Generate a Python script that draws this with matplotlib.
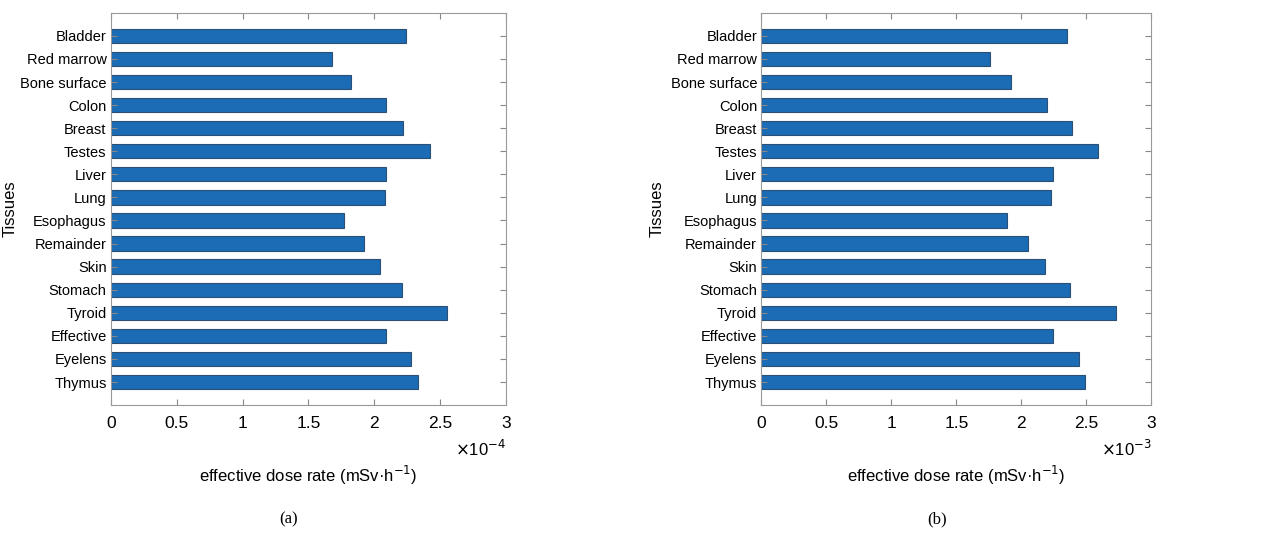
import matplotlib.pyplot as plt
from matplotlib.ticker import FuncFormatter

plt.rcParams['font.family'] = ['Liberation Sans Narrow', 'Liberation Sans', 'DejaVu Sans']

tissues = ['Bladder', 'Red marrow', 'Bone surface', 'Colon', 'Breast', 'Testes',
           'Liver', 'Lung', 'Esophagus', 'Remainder', 'Skin', 'Stomach',
           'Tyroid', 'Effective', 'Eyelens', 'Thymus']

# dose rates, (a) in units of 1e-4 mSv/h, (b) in units of 1e-3 mSv/h
dose_a = [2.24, 1.68, 1.82, 2.09, 2.22, 2.42, 2.09, 2.08,
          1.77, 1.92, 2.04, 2.21, 2.55, 2.09, 2.28, 2.33]
dose_b = [2.35, 1.76, 1.92, 2.20, 2.39, 2.59, 2.24, 2.23,
          1.89, 2.05, 2.18, 2.37, 2.73, 2.24, 2.44, 2.49]
exponents = ['-4', '-3']
panel_labels = ['(a)', '(b)']

xticks = [0, 0.5, 1, 1.5, 2, 2.5, 3]
bar_color = '#1b6bb5'

fig = plt.figure(figsize=(12.88, 5.33), dpi=100)
axes = [fig.add_axes([0.086, 0.240, 0.307, 0.736]),
        fig.add_axes([0.591, 0.240, 0.303, 0.736])]
label_x = [-0.235, -0.248]

for ax, vals, exp, lab, lx in zip(axes, [dose_a, dose_b], exponents, panel_labels, label_x):
    n = len(tissues)
    ypos = list(range(n, 0, -1))
    ax.barh(ypos, vals, height=0.62, color=bar_color, edgecolor='#2b4f75', linewidth=0.8)
    ax.set_yticks(ypos)
    ax.set_yticklabels(tissues, fontsize=10.5)
    ax.set_ylim(0, n + 1)
    ax.set_xlim(0, 3)
    ax.set_xticks(xticks)
    ax.xaxis.set_major_formatter(FuncFormatter(lambda v, p: '%g' % v))
    ax.tick_params(axis='x', labelsize=12.5, pad=8)
    ax.tick_params(axis='y', pad=3)
    ax.tick_params(direction='in', top=True, right=True, length=4,
                   color='#888888', width=0.8)
    for s in ax.spines.values():
        s.set_color('#999999')
        s.set_linewidth(0.8)
    ax.set_ylabel('Tissues', fontsize=12)
    ax.yaxis.set_label_coords(lx, 0.5)
    ax.set_xlabel('effective dose rate (mSv·h$^{-1}$)', fontsize=12)
    ax.xaxis.set_label_coords(0.5, -0.15)
    ax.text(1.0, -0.112, r'$\times$10$^{' + exp.replace('-', '\u2212') + '}$',
            transform=ax.transAxes, ha='right', va='center', fontsize=12)
    pos = ax.get_position()
    fig.text(pos.x0 + pos.width * 0.45, 0.025, lab, ha='center', va='center',
             fontsize=12, family=['Liberation Serif', 'DejaVu Serif'])

fig.savefig('out.png', dpi=100)
